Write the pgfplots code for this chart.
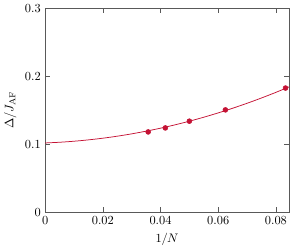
\documentclass[border=0pt]{standalone}
\usepackage{pgfplots}
\pgfplotsset{compat=1.18}
\definecolor{crim}{RGB}{196,18,52}
\begin{document}
\begin{tikzpicture}
\begin{axis}[
  scale only axis,
  width=197pt, height=165pt,
  xmin=0, xmax=0.0845, ymin=0, ymax=0.3,
  xtick={0,0.02,0.04,0.06,0.08},
  ytick={0,0.1,0.2,0.3},
  scaled x ticks=false, scaled y ticks=false,
  xticklabel style={/pgf/number format/fixed},
  yticklabel style={/pgf/number format/fixed},
  xlabel={$1/N$},
  ylabel={$\Delta/J_{\mathrm{AF}}$},
  axis line style={gray!70!black},
  tick style={gray!70!black},
]
\addplot[crim, semithick, no marks, smooth] coordinates {
(0,0.1018) (0.005,0.10282) (0.01,0.10433) (0.015,0.10632) (0.02,0.10879)
(0.025,0.11174) (0.03,0.11518) (0.035,0.11911) (0.04,0.12351) (0.045,0.1284)
(0.05,0.13378) (0.055,0.13963) (0.06,0.14597) (0.065,0.1528) (0.07,0.1601)
(0.075,0.16789) (0.08,0.17617) (0.085,0.18493)
};
\addplot[crim, only marks, mark=*, mark size=2pt] coordinates {
(0.035714,0.118) (0.041667,0.1239) (0.05,0.1338) (0.0625,0.1504) (0.083333,0.1825)
};
\end{axis}
\end{tikzpicture}
\end{document}
